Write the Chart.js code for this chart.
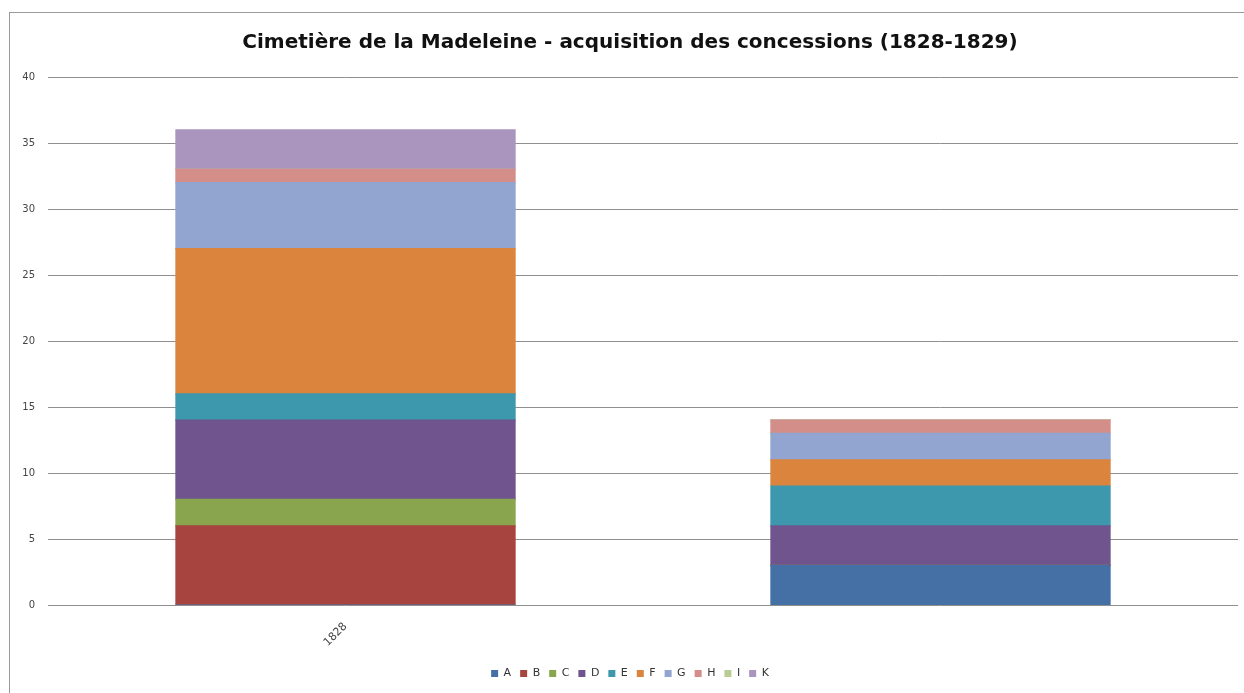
<!DOCTYPE html>
<html lang="fr">
<head>
<meta charset="utf-8">
<title>Cimetière de la Madeleine</title>
<script src="https://cdn.jsdelivr.net/npm/chart.js@4.4.1/dist/chart.umd.min.js"></script>
<style>
  html, body {
    margin: 0;
    padding: 0;
    background: #ffffff;
    overflow: hidden;
  }

  #frame {
    position: absolute;
    left: 9px;
    top: 12px;
    width: 1300px;
    height: 760px;
    border-left: 1px solid #9a9a9a;
    border-top: 1px solid #9a9a9a;
    pointer-events: none;
  }

  #chart {
    position: absolute;
    left: 0;
    top: 0;
  }
</style>
</head>
<body>
<canvas id="chart" width="1244" height="693"></canvas>
<div id="frame"></div>
<script>
// Years on the x axis (only the first one gets a label, like the original workbook)
const years = ["1828", "1829"];

// Concessions acquired per section, one entry per year
const sectionA = [0, 3];
const sectionB = [6, 0];
const sectionC = [2, 0];
const sectionD = [6, 3];
const sectionE = [2, 3];
const sectionF = [11, 2];
const sectionG = [5, 2];
const sectionH = [1, 1];
const sectionI = [0, 0];
const sectionK = [3, 0];

const yTicks = [0, 5, 10, 15, 20, 25, 30, 35, 40];

const sections = [
  { label: "A", data: sectionA, color: "#4470a6" },
  { label: "B", data: sectionB, color: "#a8443f" },
  { label: "C", data: sectionC, color: "#89a54e" },
  { label: "D", data: sectionD, color: "#6f548e" },
  { label: "E", data: sectionE, color: "#3d97ad" },
  { label: "F", data: sectionF, color: "#db843d" },
  { label: "G", data: sectionG, color: "#91a5d0" },
  { label: "H", data: sectionH, color: "#d48e8a" },
  { label: "I", data: sectionI, color: "#b8cc95" },
  { label: "K", data: sectionK, color: "#a995be" },
];

const tickFont = { family: "DejaVu Sans", size: 10 };

new Chart(document.getElementById("chart"), {
  type: "bar",
  data: {
    labels: years,
    datasets: sections.map((section) => ({
      label: section.label,
      data: section.data,
      backgroundColor: section.color,
      borderWidth: 0,
      // overlap the segments slightly so no light seam shows between them
      inflateAmount: 0.6,
      categoryPercentage: 1,
      barPercentage: 0.57,
    })),
  },
  options: {
    responsive: false,
    animation: false,
    layout: {
      padding: { top: 0, right: 6, bottom: 4, left: 22 },
    },
    plugins: {
      title: {
        display: true,
        text: "Cimetière de la Madeleine - acquisition des concessions (1828-1829)",
        color: "#111111",
        font: { family: "DejaVu Sans", size: 20, weight: "bold" },
        padding: { top: 31, bottom: 22 },
      },
      legend: {
        position: "bottom",
        labels: {
          boxWidth: 7,
          boxHeight: 7,
          padding: 9,
          color: "#333333",
          font: { family: "DejaVu Sans", size: 11 },
        },
      },
      tooltip: { enabled: false },
    },
    scales: {
      x: {
        stacked: true,
        grid: { display: false, drawTicks: false },
        border: { display: false },
        ticks: {
          autoSkip: false,
          minRotation: 45,
          maxRotation: 45,
          padding: 15,
          color: "#444444",
          font: { family: "DejaVu Sans", size: 11 },
          callback(value, index) {
            return index === 0 ? years[index] : "";
          },
        },
        afterFit(axis) {
          axis.height = 54;
        },
      },
      y: {
        stacked: true,
        min: 0,
        max: 40,
        afterBuildTicks(axis) {
          axis.ticks = yTicks.map((value) => ({ value }));
        },
        grid: { color: "#8f8f8f", lineWidth: 1, drawTicks: false },
        border: { display: false },
        ticks: {
          padding: 13,
          color: "#444444",
          font: tickFont,
        },
        afterFit(axis) {
          axis.width = 26;
        },
      },
    },
  },
});
</script>
</body>
</html>
